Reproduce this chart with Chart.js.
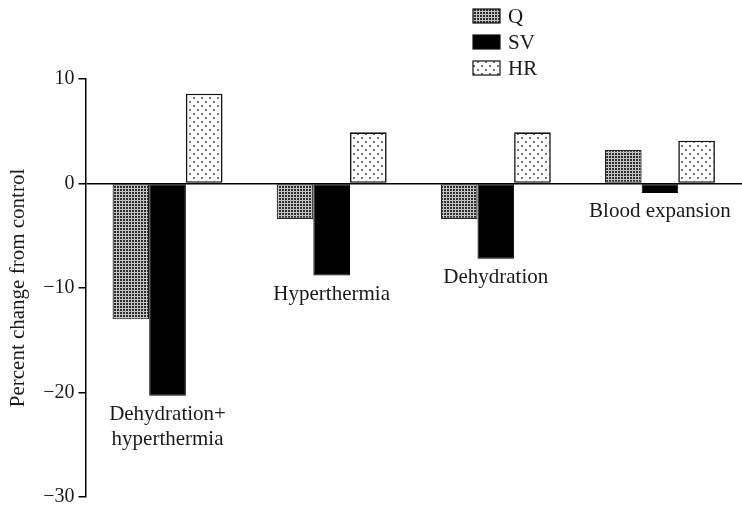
<!DOCTYPE html>
<html>
<head>
<meta charset="utf-8">
<script src="https://cdn.jsdelivr.net/npm/chart.js@4"></script>
<style>
  html, body { margin: 0; padding: 0; background: #fff; }
  #wrap { width: 742px; height: 511px; }
</style>
</head>
<body>
<div id="wrap"><canvas id="chartCanva"></canvas></div>
<script>
// data
const categories = [["Dehydration+", "hyperthermia"], ["Hyperthermia"], ["Dehydration"], ["Blood expansion"]];
const seriesNames = ["Q", "SV", "HR"];
const qValues = [-13.0, -3.4, -3.4, 3.2];
const svValues = [-20.3, -8.8, -7.2, -0.9];
const hrValues = [8.6, 4.9, 4.9, 4.1];
const yTicks = [10, 0, -10, -20, -30];

const FONT = "'Liberation Serif', 'Times New Roman', serif";
const INK = "#1a1a1a";

// small tiles used as fills
function makePattern(w, h, draw) {
  const c = document.createElement("canvas");
  c.width = w;
  c.height = h;
  const g = c.getContext("2d");
  draw(g);
  return g.createPattern(c, "repeat");
}

// fine grid hatch for Q
const gridFill = makePattern(3, 3, (g) => {
  g.fillStyle = "#c4c4c4";
  g.fillRect(0, 0, 3, 3);
  g.fillStyle = "#2e2e2e";
  g.fillRect(0, 0, 2, 2);
});

// dotted fill for HR
const dotFill = makePattern(8, 8, (g) => {
  g.fillStyle = "#fff";
  g.fillRect(0, 0, 8, 8);
  g.fillStyle = "#777";
  g.fillRect(1, 1, 2, 2);
  g.fillRect(5, 5, 2, 2);
});

// group names written under the lowest bar of each group
const groupLabels = {
  id: "groupLabels",
  afterDatasetsDraw(chart) {
    const { ctx } = chart;
    const x = chart.scales.x;
    const y = chart.scales.y;
    ctx.save();
    ctx.font = "21px " + FONT;
    ctx.fillStyle = INK;
    ctx.textAlign = "center";
    ctx.textBaseline = "middle";
    categories.forEach((lines, i) => {
      const low = Math.min(qValues[i], svValues[i], hrValues[i], 0);
      const top = y.getPixelForValue(low) + 19;
      lines.forEach((t, k) => ctx.fillText(t, x.getPixelForValue(i), top + k * 25));
    });
    ctx.restore();
  },
};

// stacked legend above the plot, as in the figure
const stackedLegend = {
  id: "stackedLegend",
  afterDraw(chart) {
    const { ctx } = chart;
    ctx.save();
    ctx.font = "21px " + FONT;
    ctx.textBaseline = "middle";
    chart.data.datasets.forEach((ds, i) => {
      const cy = 16 + i * 26;
      ctx.fillStyle = ds.backgroundColor;
      ctx.fillRect(473, cy - 7, 27, 14);
      ctx.strokeStyle = "#111";
      ctx.lineWidth = 1.2;
      ctx.strokeRect(473, cy - 7, 27, 14);
      ctx.fillStyle = INK;
      ctx.fillText(ds.label, 508, cy + 1);
    });
    ctx.restore();
  },
};

new Chart(document.getElementById("chartCanva"), {
  type: "bar",
  data: {
    labels: categories.map((l) => l.join(" ")),
    datasets: [
      { label: seriesNames[0], data: qValues, backgroundColor: gridFill, borderColor: "#222", borderWidth: 1.2 },
      { label: seriesNames[1], data: svValues, backgroundColor: "#000", borderColor: "#000", borderWidth: 1 },
      { label: seriesNames[2], data: hrValues, backgroundColor: dotFill, borderColor: "#111", borderWidth: 1.6 },
    ],
  },
  options: {
    responsive: true,
    maintainAspectRatio: false,
    animation: false,
    layout: { padding: { top: 79, right: 0, bottom: 0, left: 0 } },
    datasets: { bar: { barPercentage: 1, categoryPercentage: 0.67, borderSkipped: false } },
    plugins: {
      legend: { display: false },
      tooltip: { enabled: false },
    },
    scales: {
      x: { display: false },
      y: {
        min: -30,
        max: 10,
        afterBuildTicks: (scale) => {
          scale.ticks = yTicks.map((v) => ({ value: v }));
        },
        border: { display: true, color: "#000", width: 1.5 },
        grid: {
          drawOnChartArea: true,
          color: (c) => (c.tick && c.tick.value === 0 ? "#000" : "rgba(0,0,0,0)"),
          lineWidth: 1.5,
          tickColor: "#000",
          tickLength: 7,
        },
        ticks: {
          color: INK,
          padding: 4,
          font: { family: FONT, size: 20, lineHeight: 1 },
          callback: (v) => String(v).replace("-", "\u2212"),
        },
        title: {
          display: true,
          text: "Percent change from control",
          color: INK,
          font: { family: FONT, size: 21 },
          padding: { top: 6, bottom: 8 },
        },
      },
    },
  },
  plugins: [groupLabels, stackedLegend],
});
</script>
</body>
</html>
